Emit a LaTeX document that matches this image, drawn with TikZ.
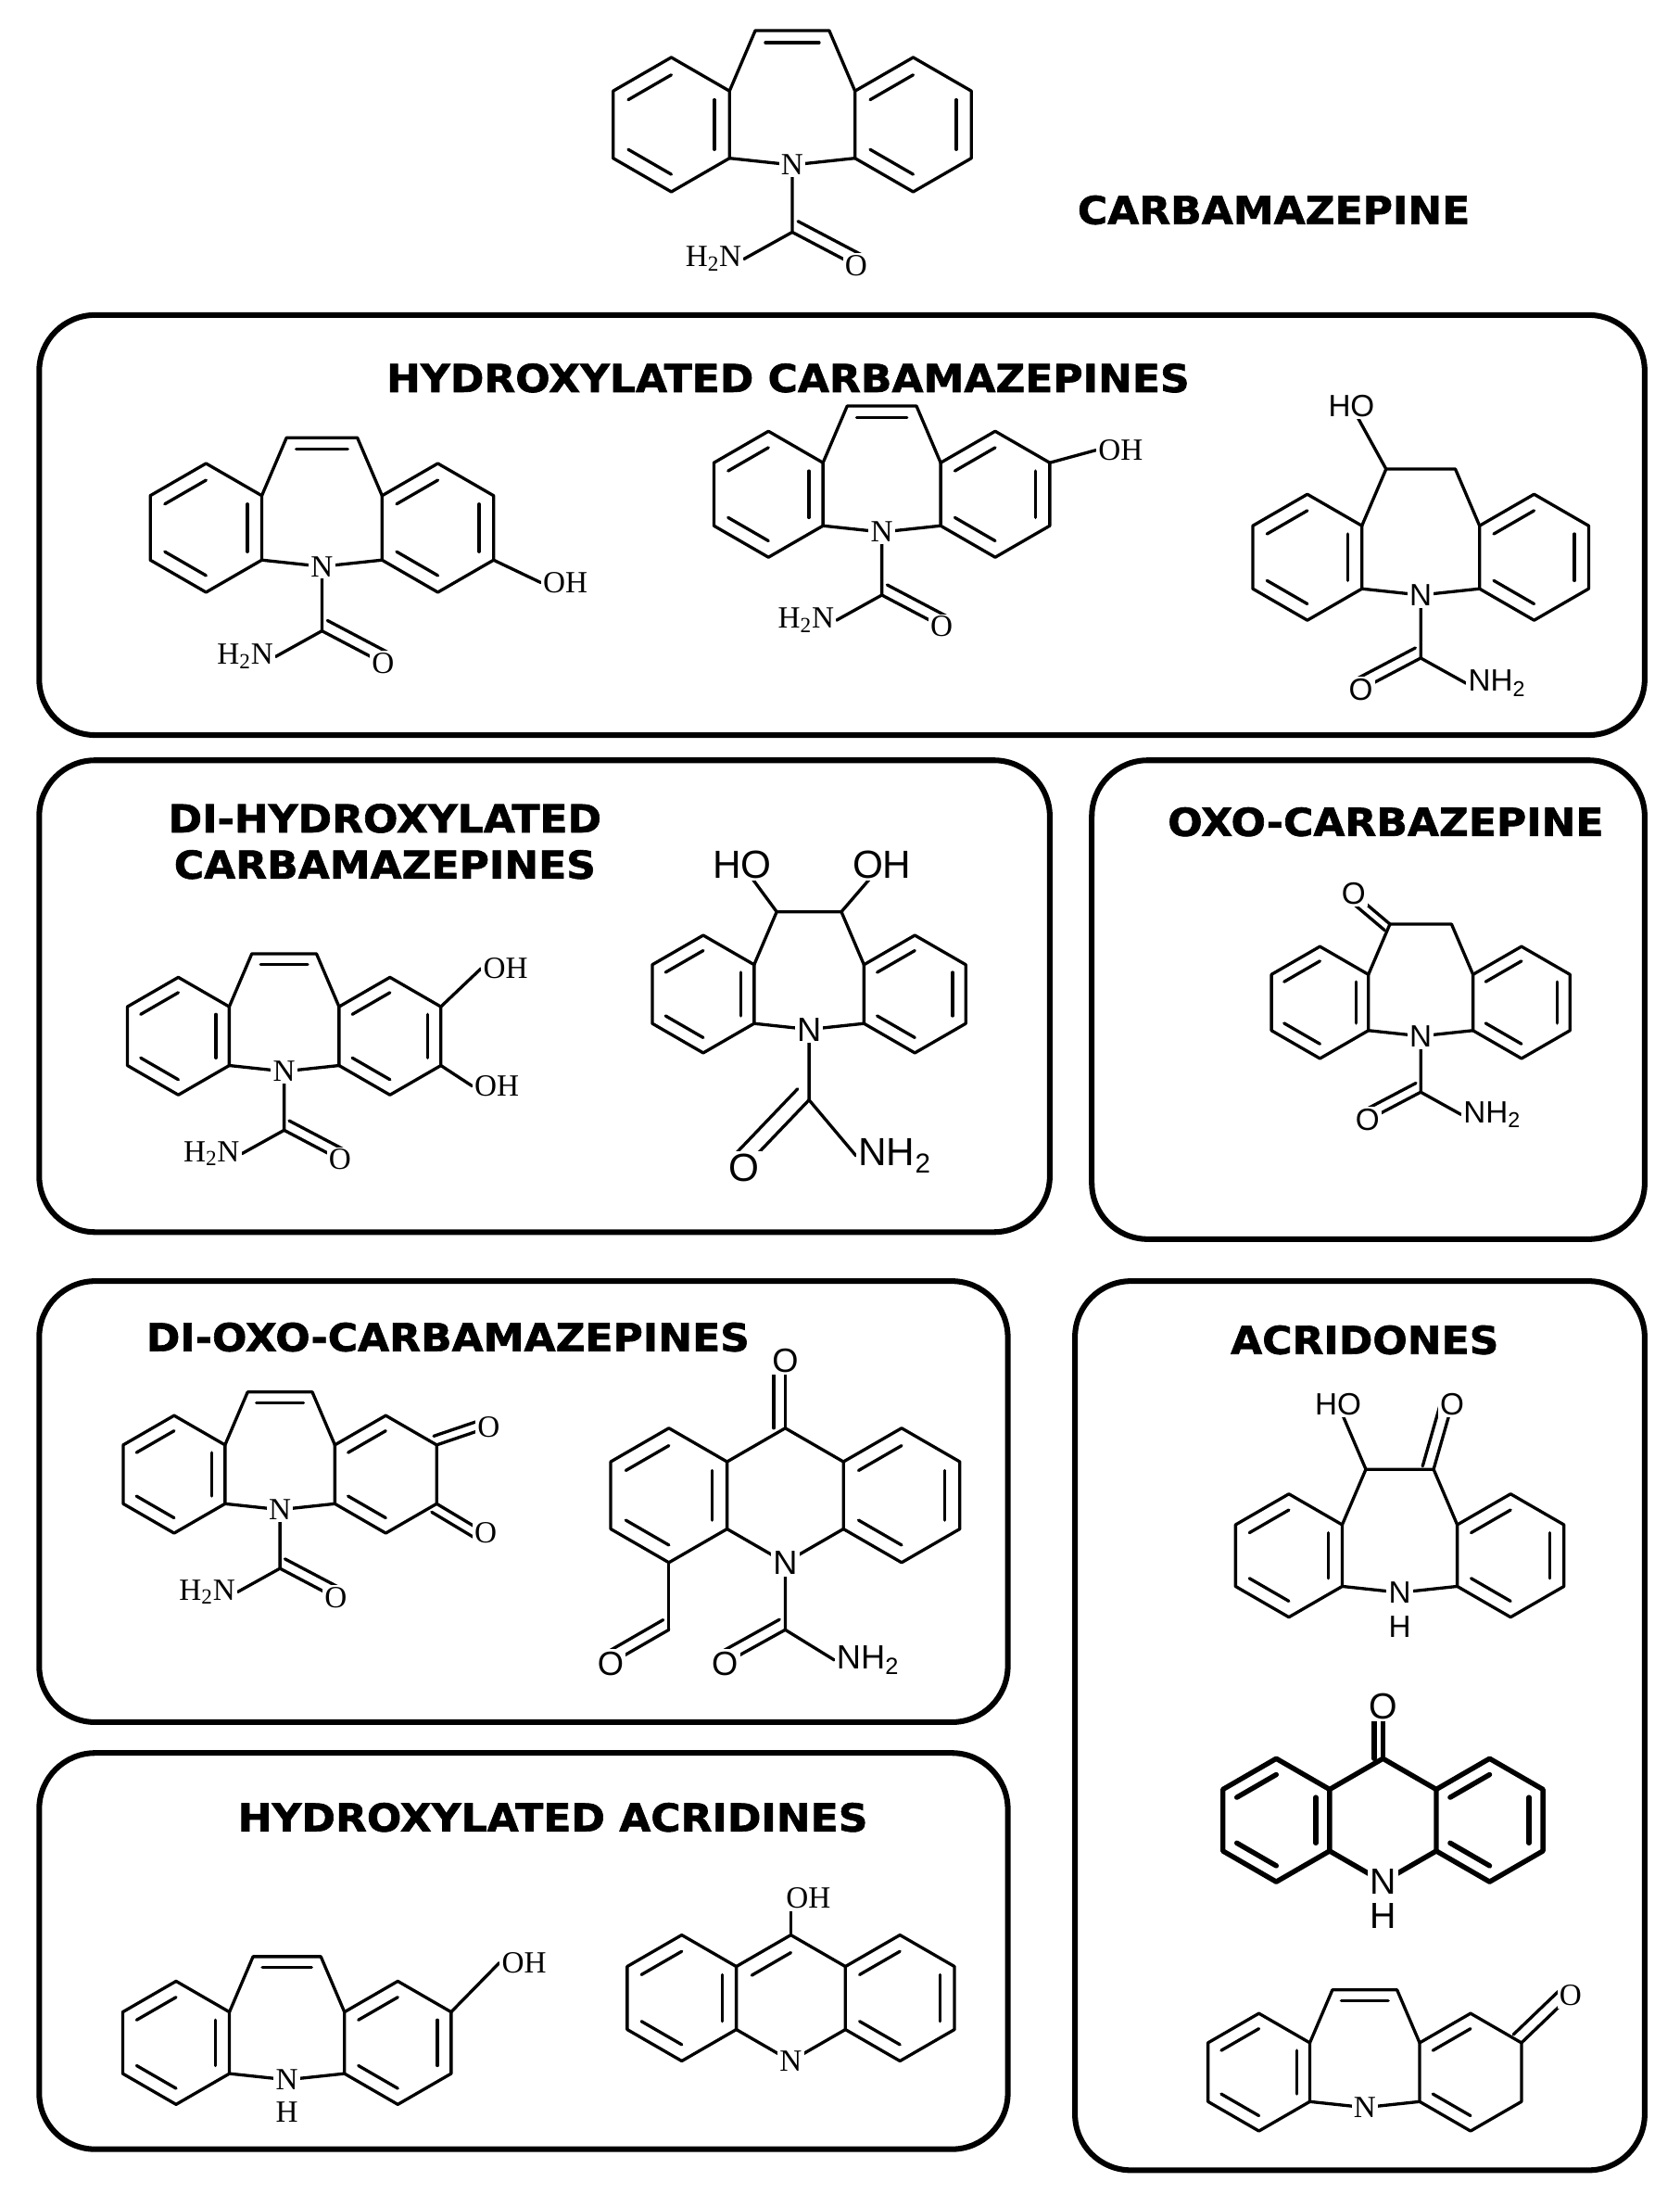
\documentclass[tikz,border=0pt]{standalone}
\usepackage{fontspec}
\setmainfont{Liberation Serif}
\newfontfamily\lsans{Liberation Sans}
\newfontfamily\titlef[FakeStretch=1.06,FakeBold=1.5]{DejaVu Sans Bold}
\usetikzlibrary{calc}
\tikzset{
 bond/.style={line width=2.2pt, line join=round, line cap=round},
 atom/.style={fill=white, inner sep=1.5pt, font=\rmfamily\fontsize{22}{24}\selectfont},
 satom/.style={fill=white, inner sep=1.5pt, font=\lsans\fontsize{22}{24}\selectfont},
 batom/.style={fill=white, inner sep=1.5pt, font=\lsans\fontsize{28}{30}\selectfont},
 box/.style={draw, line width=4pt, rounded corners=40pt},
 ttl/.style={font=\titlef\fontsize{27.5}{33}\selectfont, align=center}
}
\newcommand\hexa[4]{\draw[bond] ($(#1,#2)+(#3:1)$) -- ($(#1,#2)+(#3+60:1)$) -- ($(#1,#2)+(#3+120:1)$) -- ($(#1,#2)+(#3+180:1)$) -- ($(#1,#2)+(#3+240:1)$) -- ($(#1,#2)+(#3+300:1)$) -- cycle;
 \foreach \k in {#4}{\draw[bond] ($(#1,#2)+(#3+60*\k:0.74)$) -- ($(#1,#2)+(#3+60*\k+60:0.74)$);}}
\newcommand\dbl[2]{\draw[bond] (#1)--(#2); \draw[bond] ($(#1)!0.17!90:(#2)$)--($(#2)!0.17!-90:(#1)$);}
\newcommand\dbz[3]{\hexa{-1.8}{0}{30}{#1}\hexa{1.8}{0}{30}{#2}
 \coordinate (N) at (0,-0.6); \coordinate (B1) at (-0.55,1.4); \coordinate (B2) at (0.55,1.4);
 \coordinate (RUR) at (2.666,0.5); \coordinate (RLR) at (2.666,-0.5);
 \draw[bond] (-0.934,0.5)--(B1)--(B2)--(0.934,0.5); \draw[bond] (-0.934,-0.5)--(N)--(0.934,-0.5);
 \ifnum#3=1 \draw[bond] (-0.4,1.22)--(0.4,1.22);\fi}
\newcommand\carbR[1]{\coordinate (C) at (0,-1.6); \coordinate (O) at (0.95,-2.1); \coordinate (A) at (-0.72,-2.0);
 \draw[bond] (N)--(C)--(A); \dbl{C}{O}; \node[#1] (oc) at (O) {O}; \node[#1,anchor=east] (ac) at (A) {H\textsubscript{2}N}; \node[#1] (nc) at (N) {N};}
\newcommand\carbL[1]{\coordinate (C) at (0,-1.6); \coordinate (O) at (-0.95,-2.1); \coordinate (A) at (0.72,-2.0);
 \draw[bond] (N)--(C)--(A); \dbl{O}{C}; \node[#1] (oc) at (O) {O}; \node[#1,anchor=west] (ac) at (A) {NH\textsubscript{2}}; \node[#1] (nc) at (N) {N};}
\begin{document}
\begin{tikzpicture}[x=1pt,y=-1pt]
\useasboundingbox (0,0) rectangle (1200,1567);
% boxes
\draw[box] (28,225) rectangle (1175,525);
\draw[box] (28,543) rectangle (750,880);
\draw[box] (780,543) rectangle (1175,885);
\draw[box] (28,915) rectangle (720,1230);
\draw[box] (28,1252) rectangle (720,1535);
\draw[box] (768,915) rectangle (1175,1550);
% titles
\node[ttl] (t0) at (910,150) {CARBAMAZEPINE};
\node[ttl] (t1) at (563,270) {HYDROXYLATED CARBAMAZEPINES};
\node[ttl] (t2) at (275,601) {DI-HYDROXYLATED\\CARBAMAZEPINES};
\node[ttl] (t3) at (990,587) {OXO-CARBAZEPINE};
\node[ttl] (t4) at (320,955) {DI-OXO-CARBAMAZEPINES};
\node[ttl] (t5) at (395,1298) {HYDROXYLATED ACRIDINES};
\node[ttl] (t6) at (975,957) {ACRIDONES};
% carbamazepine
\begin{scope}[xshift=566pt,yshift=-89pt,x=48pt,y=48pt]
\dbz{1,3,5}{1,3,5}{1}\carbR{atom}
\end{scope}
% 2a
\begin{scope}[xshift=230pt,yshift=-377pt,x=46pt,y=46pt]
\dbz{1,3,5}{1,3,5}{1}
\coordinate (oh) at (3.4,-0.85); \draw[bond] (RLR)--(oh);
\carbR{atom}\node[atom,anchor=west] (oh2a) at (oh) {OH};
\end{scope}
% 2b
\begin{scope}[xshift=630pt,yshift=-353pt,x=45pt,y=45pt]
\dbz{1,3,5}{1,3,5}{1}
\coordinate (oh) at (3.4,0.7); \draw[bond] (RUR)--(oh);
\carbR{atom}\node[atom,anchor=west] (oh2b) at (oh) {OH};
\end{scope}
% 2c
\begin{scope}[xshift=1015pt,yshift=-398pt,x=45pt,y=45pt]
\dbz{1,3,5}{1,3,5}{0}
\coordinate (ho) at (-1.1,2.4); \draw[bond] (B1)--(ho);
\carbL{satom}\node[satom] (ho2c) at (ho) {HO};
\end{scope}
% 3a
\begin{scope}[xshift=203pt,yshift=-740pt,x=42pt,y=42pt]
\dbz{1,3,5}{1,3,5}{1}
\coordinate (oha) at (3.35,1.15); \draw[bond] (RUR)--(oha);
\coordinate (ohb) at (3.2,-0.85); \draw[bond] (RLR)--(ohb);
\carbR{atom}\node[atom,anchor=west] (oh3a) at (oha) {OH};\node[atom,anchor=west] (oh3b) at (ohb) {OH};
\end{scope}
% 3b
\begin{scope}[xshift=578pt,yshift=-710pt,x=42pt,y=42pt]
\dbz{1,3,5}{1,3,5}{0}
\coordinate (hoa) at (-1.14,2.2); \draw[bond] (B1)--(hoa);
\coordinate (hob) at (1.24,2.2); \draw[bond] (B2)--(hob);
\coordinate (C) at (0,-1.8); \coordinate (O) at (-1.1,-2.95); \coordinate (A) at (0.8,-2.75);
\draw[bond] (N)--(C)--(A); \dbl{O}{C}
\node[batom] (oc3) at (O) {O}; \node[batom,anchor=west] (ac3) at (A) {NH\textsubscript{2}}; \node[batom,font=\lsans\fontsize{24}{26}\selectfont] (nc3) at (N) {N};
\node[batom] (ho3a) at (hoa) {HO};\node[batom] (ho3b) at (hob) {OH};
\end{scope}
% oxo
\begin{scope}[xshift=1015pt,yshift=-716pt,x=40pt,y=40pt]
\dbz{1,3,5}{1,3,5}{0}
\coordinate (ox) at (-1.2,1.95); \dbl{B1}{ox}
\carbL{satom}\node[satom] (oxo) at (ox) {O};
\end{scope}
% 4a
\begin{scope}[xshift=200pt,yshift=-1053pt,x=42pt,y=42pt]
\dbz{1,3,5}{1,3}{1}
\coordinate (o1) at (3.55,0.8); \dbl{RUR}{o1}
\coordinate (o2) at (3.5,-1.0); \dbl{o2}{RLR}
\carbR{atom}\node[atom] (o4a) at (o1) {O};\node[atom] (o4b) at (o2) {O};
\end{scope}
% 4b
\begin{scope}[xshift=561pt,yshift=-1068pt,x=48pt,y=48pt]
\hexa{-1.732}{0}{30}{1,3,5}\hexa{1.732}{0}{30}{1,3,5}
\coordinate (T) at (0,1); \coordinate (N) at (0,-1);
\draw[bond] (-0.866,0.5)--(T)--(0.866,0.5); \draw[bond] (-0.866,-0.5)--(N)--(0.866,-0.5);
\coordinate (OT) at (0,2.0); \dbl{T}{OT}
\coordinate (LB) at (-1.732,-1); \coordinate (CA) at (-1.732,-2.0); \coordinate (OA) at (-2.6,-2.5);
\draw[bond] (LB)--(CA); \dbl{OA}{CA}
\coordinate (C) at (0,-2.0); \coordinate (O) at (-0.9,-2.5); \coordinate (A) at (0.73,-2.45);
\draw[bond] (N)--(C)--(A); \dbl{O}{C}
\node[satom,font=\lsans\fontsize{24}{26}\selectfont] (o4t) at (OT) {O};
\node[satom,font=\lsans\fontsize{24}{26}\selectfont] (o4al) at (OA) {O};
\node[satom,font=\lsans\fontsize{24}{26}\selectfont] (o4c) at (O) {O};
\node[satom,font=\lsans\fontsize{24}{26}\selectfont,anchor=west] (a4) at (A) {NH\textsubscript{2}};
\node[satom,font=\lsans\fontsize{24}{26}\selectfont] (n4) at (N) {N};
\end{scope}
% 5a
\begin{scope}[xshift=205pt,yshift=-1459pt,x=44pt,y=44pt]
\dbz{1,3,5}{1,3,5}{1}
\coordinate (oh) at (3.45,1.3); \draw[bond] (RUR)--(oh);
\node[atom,anchor=west] (oh5) at (oh) {OH};
\node[atom] (n5) at (N) {N}; \node[atom] (h5) at (0,-1.12) {H};
\end{scope}
% 5b
\begin{scope}[xshift=565pt,yshift=-1427pt,x=45pt,y=45pt]
\hexa{-1.732}{0}{30}{1,3,5}\hexa{1.732}{0}{30}{1,3,5}
\coordinate (T) at (0,1); \coordinate (N) at (0,-1);
\draw[bond] (-0.866,0.5)--(T)--(0.866,0.5); \draw[bond] (-0.866,-0.5)--(N)--(0.866,-0.5);
\draw[bond] (-0.62,0.36)--(0,0.72);
\coordinate (OH) at (0,1.5); \draw[bond] (T)--(OH);
\node[atom] (oh5b) at (0.28,1.58) {OH};
\node[atom] (n5b) at (N) {N};
\end{scope}
% 6a
\begin{scope}[xshift=1000pt,yshift=-1111pt,x=44pt,y=44pt]
\dbz{1,3,5}{1,3,5}{0}
\coordinate (ho) at (-1.0,2.45); \draw[bond] (B1)--(ho);
\coordinate (ok) at (0.85,2.45); \dbl{B2}{ok}
\node[satom] (ho6) at (ho) {HO}; \node[satom] (o6) at (ok) {O};
\node[satom] (n6) at (N) {N}; \node[satom] (h6) at (0,-1.15) {H};
\end{scope}
% 6b acridone
\begin{scope}[xshift=988pt,yshift=-1300pt,x=44pt,y=44pt,bond/.style={line width=3.6pt,line join=round,line cap=round}]
\hexa{-1.732}{0}{30}{1,3,5}\hexa{1.732}{0}{30}{1,3,5}
\coordinate (T) at (0,1); \coordinate (N) at (0,-1);
\draw[bond] (-0.866,0.5)--(T)--(0.866,0.5); \draw[bond] (-0.866,-0.5)--(N)--(0.866,-0.5);
\coordinate (OT) at (0,1.85); \dbl{T}{OT}
\node[satom,font=\lsans\fontsize{26}{28}\selectfont] (o6b) at (OT) {O};
\node[satom,font=\lsans\fontsize{26}{28}\selectfont] (n6b) at (N) {N};
\node[satom,font=\lsans\fontsize{26}{28}\selectfont] (h6b) at (0,-1.55) {H};
\end{scope}
% 6c
\begin{scope}[xshift=975pt,yshift=-1480pt,x=42pt,y=42pt]
\dbz{1,3,5}{1,3}{1}
\coordinate (ok) at (3.5,1.3); \dbl{RUR}{ok}
\node[atom] (o6c) at (ok) {O}; \node[atom] (n6c) at (N) {N};
\end{scope}
\end{tikzpicture}
\end{document}
